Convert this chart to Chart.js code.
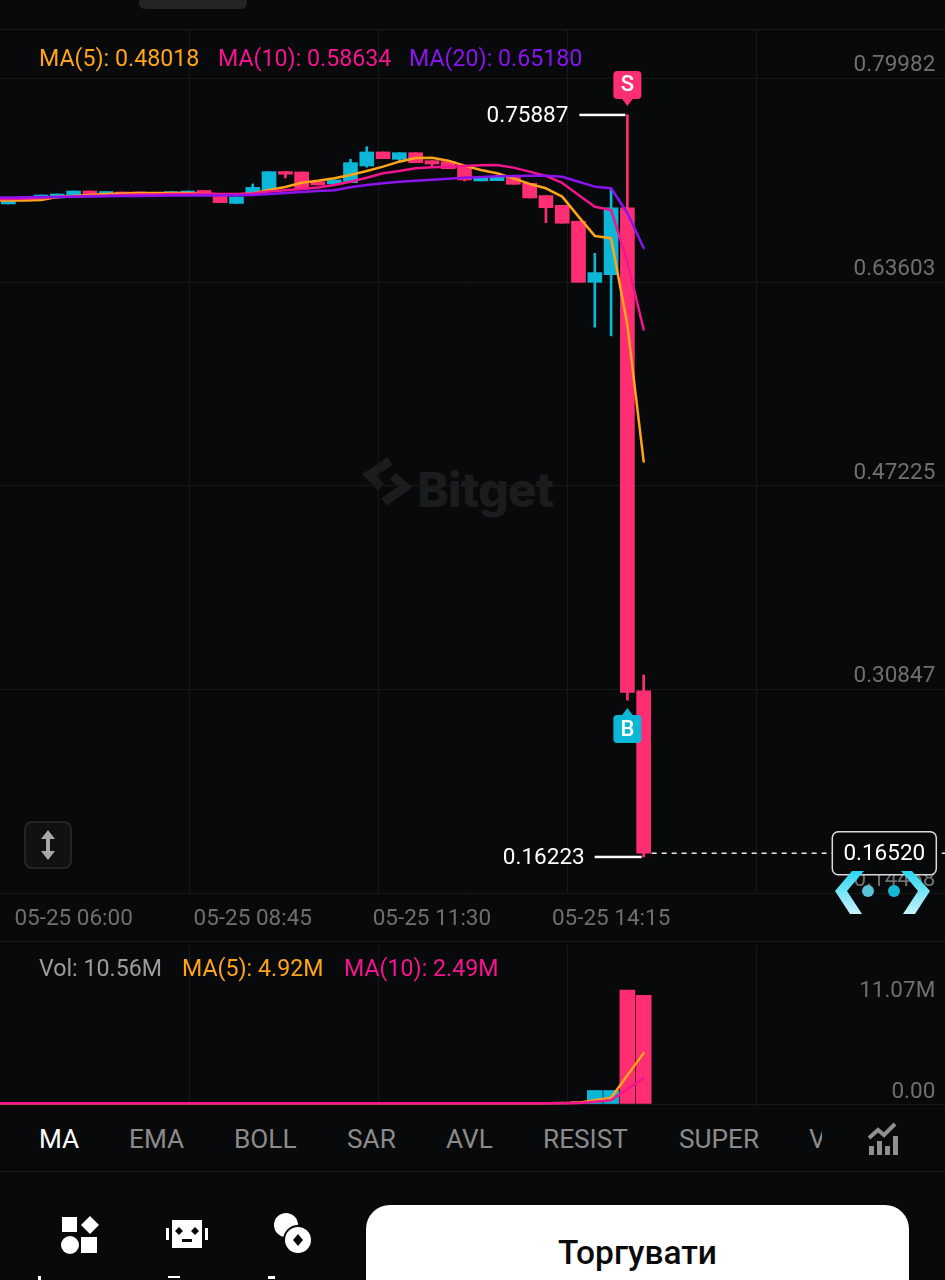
<!DOCTYPE html>
<html><head><meta charset="utf-8">
<script src="https://cdn.jsdelivr.net/npm/chart.js@4"></script>
<style>
html,body{margin:0;padding:0;background:#08090a;width:945px;height:1280px;overflow:hidden;font-family:Roboto,sans-serif}
.t{position:absolute;white-space:nowrap;line-height:1;font-size:23.2px}
.tab{font-size:26.2px;color:#8b8b8b;top:1126px}
.line{position:absolute;left:0;width:945px;height:1px;background:#1a1b1c}
canvas{position:absolute}
</style></head><body>
<div style="position:absolute;left:139px;top:-6px;width:108px;height:15px;border-radius:6px;background:#232426"></div>
<div class="line" style="top:29px"></div>
<div class="line" style="top:941px"></div>
<div class="line" style="top:1171px"></div>
<!-- watermark -->
<svg style="position:absolute;left:0;top:0" width="945" height="1280">
<path d="M390 461L369 475L381 487M384 502L405 487L393 476" fill="none" stroke="#1b1c1d" stroke-width="9"/>
</svg>
<div class="t" style="left:417px;top:460px;font:800 48px Inter,sans-serif;color:#1b1c1d;letter-spacing:-.8px">Bitget</div>
<canvas id="main" width="961" height="911" style="left:-16.3px;top:30px"></canvas>
<canvas id="vol" width="961" height="161" style="left:-16.3px;top:945px"></canvas>
<div class="t" style="left:39px;top:47px;color:#ffa41b" id="l5">MA(5): 0.48018</div>
<div class="t" style="left:218px;top:47px;color:#f5148f">MA(10): 0.58634</div>
<div class="t" style="left:409px;top:47px;color:#8a14ee">MA(20): 0.65180</div>
<div class="t" style="left:39px;top:957px;color:#9c9c9c">Vol: 10.56M</div>
<div class="t" style="left:182px;top:957px;color:#ffa41b">MA(5): 4.92M</div>
<div class="t" style="left:344px;top:957px;color:#f5148f">MA(10): 2.49M</div>
<!-- scale button -->
<svg style="position:absolute;left:24px;top:821px" width="48" height="48"><rect x="1" y="1" width="46" height="46" rx="7" fill="#101112" stroke="#2b2c2e" stroke-width="1.5"/><path d="M24 9l7 9h-5v12h5l-7 9-7-9h5V18h-5z" fill="#a8a8a8"/></svg>
<!-- chevrons -->
<svg style="position:absolute;left:830px;top:866px" width="105" height="52">
<defs><linearGradient id="g" x1="0" y1="0" x2="0" y2="1"><stop offset="0" stop-color="#27d6f2"/><stop offset="1" stop-color="#c9f3fb"/></linearGradient></defs>
<path d="M22 5h12L17 25l15 23H20L5 25z" fill="url(#g)"/><path d="M82 5H71l17 20-15 23h12l15-23z" fill="url(#g)"/>
<circle cx="38" cy="25" r="6" fill="#58c4d6"/><circle cx="64" cy="25" r="6" fill="#15b8d2"/></svg>
<!-- tabs -->
<div class="t tab" style="left:39px;color:#fff">MA</div>
<div class="t tab" style="left:129px">EMA</div>
<div class="t tab" style="left:234px">BOLL</div>
<div class="t tab" style="left:347px">SAR</div>
<div class="t tab" style="left:446px">AVL</div>
<div class="t tab" style="left:543px">RESIST</div>
<div class="t tab" style="left:679px">SUPER</div>
<div style="position:absolute;left:809px;top:1126px;width:13px;height:28px;overflow:hidden"><div class="t tab" style="left:0;top:0">VOL</div></div>
<svg style="position:absolute;left:866px;top:1122px" width="34" height="34"><path d="M3 16l9-8 6 5 11-11" stroke="#8f8f8f" stroke-width="4" fill="none"/><path d="M3 24h5v9H3zM11 19h5v14h-5zM19 24h5v9h-5zM27 14h5v19h-5z" fill="#8f8f8f"/></svg>
<!-- bottom nav -->
<svg style="position:absolute;left:0;top:1200px" width="360" height="80" fill="#fff">
<rect x="62" y="17" width="15" height="15"/><path d="M90 16l9 9-9 9-9-9z"/><circle cx="70" cy="45" r="9"/><rect x="81" y="37" width="16" height="16"/>
<path d="M172 20h30v28h-30z M166 28h3v12h-3z M205 28h3v12h-3z"/><path d="M179 27l4 4-4 4-4-4zM195 27l4 4-4 4-4-4z" fill="#08090a"/><rect x="182" y="39" width="10" height="3" fill="#08090a"/>
<circle cx="286" cy="25" r="12"/><circle cx="298" cy="40" r="15" fill="#08090a"/><circle cx="298" cy="40" r="13"/><path d="M298 34l5 6-5 6-5-6z" fill="#08090a"/>
<rect x="38" y="76" width="3" height="4"/><rect x="168" y="76" width="12" height="2"/><rect x="268" y="76" width="7" height="3"/>
</svg>
<div style="position:absolute;left:366px;top:1205px;width:543px;height:110px;background:#fff;border-radius:24px"></div>
<div class="t" style="left:366px;width:543px;text-align:center;top:1236px;font-size:33.5px;font-weight:500;color:#0a0a0a">Торгувати</div>

<script>
const categories = ["05-25 04:45","05-25 05:00","05-25 05:15","05-25 05:30","05-25 05:45","05-25 06:00","05-25 06:15","05-25 06:30","05-25 06:45","05-25 07:00","05-25 07:15","05-25 07:30","05-25 07:45","05-25 08:00","05-25 08:15","05-25 08:30","05-25 08:45","05-25 09:00","05-25 09:15","05-25 09:30","05-25 09:45","05-25 10:00","05-25 10:15","05-25 10:30","05-25 10:45","05-25 11:00","05-25 11:15","05-25 11:30","05-25 11:45","05-25 12:00","05-25 12:15","05-25 12:30","05-25 12:45","05-25 13:00","05-25 13:15","05-25 13:30","05-25 13:45","05-25 14:00","05-25 14:15","05-25 14:30","05-25 14:45","05-25 15:00","05-25 15:15","05-25 15:30","05-25 15:45","05-25 16:00","05-25 16:15","05-25 16:30","05-25 16:45","05-25 17:00","05-25 17:15","05-25 17:30","05-25 17:45","05-25 18:00","05-25 18:15","05-25 18:30","05-25 18:45","05-25 19:00","05-25 19:15"];
const xTickLabels = ["05-25 06:00","05-25 08:45","05-25 11:30","05-25 14:15"];
const priceTicks = [0.79982,0.63603,0.47225,0.30847,0.14468];
const opens  = [.6921,.6873,.6905,.6921,.6921,.6937,.6977,.6945,.6969,.6969,.6945,.6953,.6953,.6981,.6945,.6877,.6961,.6985,.7133,.7130,.7052,.7034,.7044,.7178,.7291,.7232,.7285,.7221,.7213,.7178,.7058,.7060,.7092,.7039,.6940,.6862,.6734,.6243,.6304,.6841,.2959];
const closes = [.6915,.6905,.6921,.6945,.6953,.6977,.6945,.6973,.6945,.6945,.6961,.6972,.6977,.6945,.6883,.6929,.7006,.7133,.7112,.6993,.7026,.7066,.7205,.7291,.7237,.7285,.7205,.7194,.7157,.7066,.7082,.7090,.7031,.6921,.6843,.6718,.6243,.6321,.6841,.2946,.1652];
const highs  = [.6921,.6905,.6921,.6945,.6953,.6977,.6977,.6973,.6969,.6969,.6961,.6972,.6977,.6981,.6945,.6929,.7034,.7133,.7133,.7130,.7052,.7066,.7232,.7333,.7291,.7285,.7285,.7221,.7213,.7178,.7082,.7090,.7092,.7039,.6940,.6862,.6734,.6476,.6999,.75887,.3085];
const lows   = [.6915,.6873,.6905,.6921,.6921,.6937,.6945,.6945,.6945,.6945,.6945,.6953,.6953,.6945,.6883,.6877,.6961,.6985,.7082,.6993,.7026,.7034,.7044,.7168,.7237,.7213,.7205,.7178,.7157,.7058,.7058,.7060,.7031,.6921,.6722,.6718,.6243,.5882,.5812,.2884,.16223];
const ma5  = [.6901,.6901,.6901,.6905,.6929,.6937,.6945,.6953,.6957,.6961,.6961,.6961,.6961,.6957,.6949,.6949,.6957,.6985,.7009,.7044,.7060,.7079,.7106,.7138,.7173,.7213,.7243,.7245,.7221,.7181,.7146,.7120,.7079,.7034,.6999,.6932,.6771,.6616,.6597,.5900,.48018];
const ma10 = [.6913,.6913,.6917,.6921,.6929,.6933,.6937,.6941,.6945,.6949,.6949,.6953,.6953,.6957,.6953,.6953,.6957,.6973,.6983,.6993,.7006,.7026,.7052,.7084,.7120,.7138,.7160,.7168,.7173,.7178,.7184,.7186,.7165,.7133,.7098,.7042,.6945,.6851,.6825,.6406,.58634];
const ma20 = [.6925,.6925,.6927,.6929,.6929,.6931,.6933,.6935,.6937,.6937,.6939,.6940,.6941,.6941,.6941,.6943,.6945,.6953,.6961,.6969,.6977,.6983,.7007,.7026,.7039,.7052,.7060,.7068,.7076,.7084,.7090,.7096,.7098,.7100,.7100,.7092,.7052,.7012,.6999,.6800,.65180];
const volumes = [.02,.02,.02,.02,.02,.02,.02,.02,.02,.02,.02,.02,.02,.02,.03,.03,.03,.05,.03,.03,.03,.03,.03,.04,.03,.03,.03,.03,.03,.03,.03,.03,.03,.03,.04,.05,.2,1.27,1.27,11.07,10.56];
const volMa5  = [.02,.02,.02,.02,.02,.02,.02,.02,.02,.02,.02,.02,.02,.02,.02,.02,.03,.03,.03,.03,.03,.03,.03,.03,.03,.03,.03,.03,.03,.03,.03,.03,.03,.03,.03,.04,.07,.33,.57,2.76,4.92];
const volMa10 = [.02,.02,.02,.02,.02,.02,.02,.02,.02,.02,.02,.02,.02,.02,.02,.02,.02,.03,.03,.03,.03,.03,.03,.03,.03,.03,.03,.03,.03,.03,.03,.03,.03,.03,.03,.03,.05,.18,.31,1.42,2.49];
const volTicks = [11.07];
const zeroTicks = [0];
const lastPrice = 0.16520, highMark = 0.75887, lowMark = 0.16223, buyMark = 0.2884, markIndex = 39, lastIndex = 40;

const UP='#0cb6d6', DOWN='#ff2e72', GRID='#17181a', TICK='#6f6f6f';
const FONT='22.5px Roboto, sans-serif';
const candleColors = opens.map((o,i)=>closes[i]>=o?UP:DOWN);
const wicks = lows.map((l,i)=>[l,highs[i]]);
const bodies = opens.map((o,i)=>[o,closes[i]]);
const noWidth = s=>{s.width=0;s.paddingTop=0;s.paddingBottom=0;};

function rr(c,x,y,w,h,r){c.beginPath();c.roundRect(x,y,w,h,r);}
const gridPlugin = {id:'grid',beforeDatasetsDraw(ch,a,o){
  const c=ch.ctx,{left,right,top,bottom}=ch.chartArea;c.save();c.strokeStyle=GRID;c.lineWidth=1;c.beginPath();
  for(let k=1;k<5;k++){const x=16+189*k+.5;c.moveTo(x,top);c.lineTo(x,bottom);}
  if(ch.canvas.id==='main'){ch.scales.y.ticks.forEach(t=>{const y=Math.round(ch.scales.y.getPixelForValue(t.value)+14)+.5;c.moveTo(left,y);c.lineTo(right,y);});}
  else{const y=Math.round(ch.scales.y.getPixelForValue(0))+.5;c.moveTo(left,y);c.lineTo(right,y);}
  c.stroke();c.restore();}};
const marks = {id:'marks',afterDraw(ch){
  const c=ch.ctx,X=ch.scales.x,Y=ch.scales.y;c.save();
  const mx=X.getPixelForValue(markIndex),lx=X.getPixelForValue(lastIndex);
  c.font=FONT;c.textBaseline='middle';
  // high / low price callouts
  c.fillStyle='#fff';c.textAlign='right';
  let y=Y.getPixelForValue(highMark);
  c.fillRect(mx-48,y-1.25,46,2.5);c.fillText(highMark.toFixed(5),mx-59,y+1);
  y=Y.getPixelForValue(lowMark);
  c.fillRect(lx-49,y-1.25,47,2.5);c.fillText(lowMark.toFixed(5),lx-59,y+1);
  // last price
  y=Y.getPixelForValue(lastPrice);
  c.strokeStyle='#e8e8e8';c.lineWidth=1.5;c.setLineDash([5,5]);c.beginPath();c.moveTo(lx+8,y);c.lineTo(ch.width,y);c.stroke();c.setLineDash([]);
  const bx=848.3;
  rr(c,bx,y-21.5,104,43,6);c.fillStyle='#08090a';c.fill();c.strokeStyle='#dcdcdc';c.lineWidth=1.5;c.stroke();
  c.fillStyle='#fff';c.textAlign='center';c.fillText(lastPrice.toFixed(5),bx+52,y+1);
  // S marker
  y=Y.getPixelForValue(highMark);
  c.fillStyle=DOWN;rr(c,mx-14,y-44,28,28,4);c.fill();
  c.beginPath();c.moveTo(mx-6,y-17);c.lineTo(mx+6,y-17);c.lineTo(mx,y-9);c.fill();
  c.fillStyle='#fff';c.font='500 22px Roboto, sans-serif';c.fillText('S',mx,y-29);
  // B marker
  y=Y.getPixelForValue(buyMark);
  c.fillStyle=UP;rr(c,mx-14,y+15,28,28,4);c.fill();
  c.beginPath();c.moveTo(mx-6,y+16);c.lineTo(mx+6,y+16);c.lineTo(mx,y+8);c.fill();
  c.fillStyle='#fff';c.fillText('B',mx,y+30);
  c.restore();}};
const line=(d,col)=>({type:'line',data:d,borderColor:col,borderWidth:2.5,pointRadius:0,tension:0,order:0,borderCapStyle:'round',borderJoinStyle:'round'});

new Chart(document.getElementById('main'),{
 data:{labels:categories,datasets:[
  {type:'bar',data:wicks,backgroundColor:candleColors,barThickness:2,grouped:false,order:3},
  {type:'bar',data:bodies,backgroundColor:candleColors,barThickness:14,grouped:false,order:2},
  line(ma20,'#8a14ee'),line(ma10,'#f5148f'),line(ma5,'#ffa41b')]},
 options:{responsive:false,animation:false,events:[],
  layout:{padding:0,autoPadding:false},plugins:{legend:{display:false},tooltip:{enabled:false}},
  scales:{
   x:{type:'category',offset:true,grid:{display:false},border:{display:false},
      afterFit(s){s.height=48;},
      ticks:{autoSkip:false,maxRotation:0,minRotation:0,padding:5,color:TICK,font:{family:'Roboto',size:22.5},
        callback(v,i){const l=categories[i];return xTickLabels.includes(l)?l:'';}}},
   y:{position:'right',min:0.13326,max:0.82716,grid:{display:false},border:{display:false},afterFit:noWidth,
      afterBuildTicks(s){s.ticks=priceTicks.map(v=>({value:v}));},
      ticks:{mirror:true,padding:-9.7,labelOffset:1.5,color:TICK,font:{family:'Roboto',size:22.5},callback:v=>Number(v).toFixed(5)}}
  }},
 plugins:[gridPlugin,marks]});

new Chart(document.getElementById('vol'),{
 data:{labels:categories,datasets:[
  {type:'bar',data:volumes,backgroundColor:candleColors,barThickness:15,grouped:false,order:2},
  line(volMa10,'#f5148f'),line(volMa5,'#ffa41b')]},
 options:{responsive:false,animation:false,events:[],
  layout:{padding:0,autoPadding:false},plugins:{legend:{display:false},tooltip:{enabled:false}},
  scales:{
   x:{type:'category',offset:true,display:false},
   y:{position:'right',min:-0.244,max:15.48,grid:{display:false},border:{display:false},afterFit:noWidth,
      afterBuildTicks(s){s.ticks=volTicks.map(v=>({value:v}));},
      ticks:{mirror:true,padding:-9.7,labelOffset:1,color:TICK,font:{family:'Roboto',size:22.5},callback:v=>Number(v).toFixed(2)+'M'}},
   y0:{position:'right',min:-0.244,max:15.48,grid:{display:false},border:{display:false},afterFit:noWidth,
      afterBuildTicks(s){s.ticks=zeroTicks.map(v=>({value:v}));},
      ticks:{mirror:true,padding:-9.7,labelOffset:-11,color:TICK,font:{family:'Roboto',size:22.5},callback:v=>Number(v).toFixed(2)}}
  }},
 plugins:[gridPlugin]});
</script>
</body></html>
